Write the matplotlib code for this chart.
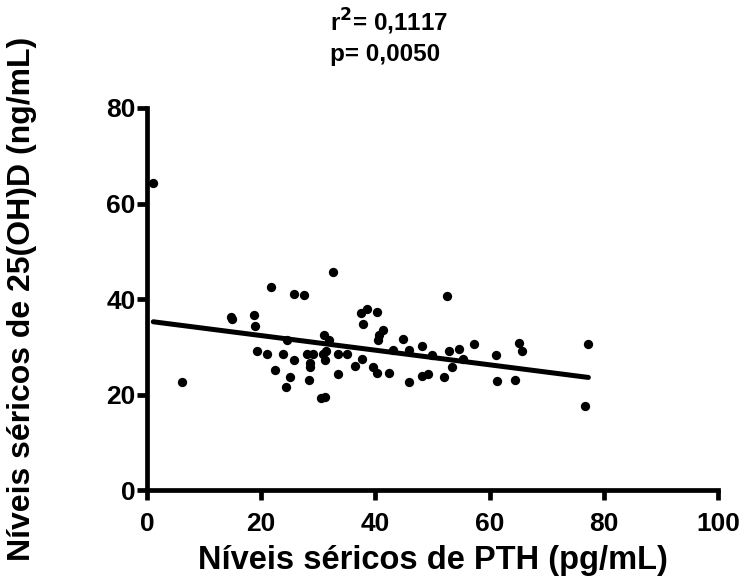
import matplotlib
matplotlib.use("Agg")
import matplotlib.pyplot as plt
import numpy as np

# PTH (pg/mL) vs 25(OH)D (ng/mL)
pth = [1.1, 6.1, 14.8, 14.9, 18.7, 19.0, 21.7, 25.7, 27.5, 19.2,
       21.1, 23.9, 25.7, 22.5, 25.1, 24.3, 28.3, 24.5, 28.0, 29.1,
       30.9, 28.5, 28.5, 31.0, 31.8, 31.3, 31.2, 30.4, 31.2, 32.5,
       37.5, 38.5, 40.3, 37.9, 41.4, 40.6, 40.5, 44.9, 48.2, 43.1,
       45.8, 50.0, 52.9, 54.6, 57.3, 55.4, 61.1, 53.5, 52.0, 48.2,
       49.2, 45.9, 61.3, 42.3, 39.6, 40.2, 37.7, 36.4, 33.5, 33.5,
       35.0, 52.5, 65.1, 65.6, 77.3, 64.4, 76.7]
vitd = [64.3, 22.7, 36.2, 35.8, 36.6, 34.4, 42.5, 41.1, 40.8, 29.1,
        28.5, 28.5, 27.3, 25.2, 23.6, 21.5, 23.0, 31.4, 28.4, 28.4,
        28.4, 26.5, 25.7, 32.4, 31.5, 29.1, 27.3, 19.3, 19.5, 45.7,
        37.1, 38.0, 37.3, 34.7, 33.5, 32.4, 31.4, 31.7, 30.1, 29.3,
        29.3, 28.2, 29.1, 29.5, 30.5, 27.5, 28.2, 25.8, 23.7, 23.9,
        24.2, 22.7, 22.9, 24.6, 25.8, 24.6, 27.5, 25.9, 24.2, 28.5,
        28.4, 40.7, 30.8, 29.1, 30.6, 23.0, 17.6]

# regression line as drawn in the reference
fit_intercept = 35.4
fit_slope = -0.153
stats_text = "r$^{2}$= 0,1117\np= 0,0050"

plt.rcParams["font.family"] = ["Liberation Sans", "DejaVu Sans"]
plt.rcParams["font.weight"] = "bold"
plt.rcParams["mathtext.default"] = "bf"

fig = plt.figure(figsize=(7.48, 5.86), dpi=100)
ax = fig.add_axes([0.1965, 0.1638, 0.7634, 0.6519])

ax.scatter(pth, vitd, s=45, color="black", zorder=3, clip_on=False, linewidths=0)
xs = np.array([min(pth), max(pth)])
ax.plot(xs, fit_intercept + fit_slope * xs, color="black", lw=3.6,
        solid_capstyle="round", zorder=2)

ax.set_xlim(0, 100)
ax.set_ylim(0, 80)
ax.set_xticks([0, 20, 40, 60, 80, 100])
ax.set_yticks([0, 20, 40, 60, 80])
for side in ("top", "right"):
    ax.spines[side].set_visible(False)
for side in ("left", "bottom"):
    ax.spines[side].set_linewidth(3.4)
    ax.spines[side].set_capstyle("projecting")
ax.tick_params(width=3.4, length=7, labelsize=19)
ax.tick_params(axis="y", pad=1)
ax.tick_params(axis="x", pad=9)
for lab in ax.get_xticklabels() + ax.get_yticklabels():
    lab.set_fontweight("bold")

ax.set_xlabel("Níveis séricos de PTH (pg/mL)", fontsize=23.5, fontweight="bold")
ax.set_ylabel("Níveis séricos de 25(OH)D (ng/mL)", fontsize=23, fontweight="bold")
ax.xaxis.set_label_coords(0.5, -0.145)
ax.yaxis.set_label_coords(-0.193, 0.5)
fig.text(0.441, 0.988, stats_text, ha="left", va="top", fontsize=17.5,
         fontweight="bold", linespacing=1.3)

fig.savefig("out.png", dpi=100)
